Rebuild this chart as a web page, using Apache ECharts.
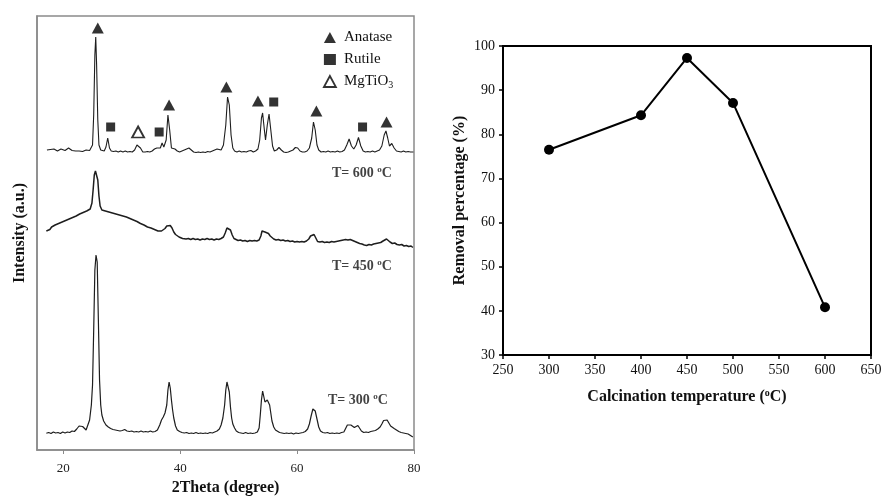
<!DOCTYPE html>
<html>
<head>
<meta charset="utf-8">
<script src="https://cdn.jsdelivr.net/npm/echarts@6/dist/echarts.min.js"></script>
<style>
  html, body { margin: 0; padding: 0; background: #fff; }
  #chart { width: 883px; height: 498px; }
</style>
</head>
<body>
<div id="chart"></div>
<script>
// XRD patterns, [2theta (deg), stacked intensity (a.u.)]
const xrd600 = [[17.2,300],[17.5,299],[17.8,300.5],[18.1,299.5],[18.4,301],[18.7,300],[19.0,299],[19.3,300],[19.6,301],[19.9,300],[20.3,299.5],[20.6,300.5],[20.9,302],[21.2,300],[21.5,299.5],[21.8,300],[22.1,299],[22.4,300],[22.7,299],[23.0,300],[23.3,298.5],[23.6,299],[23.9,300],[24.2,299],[24.5,299.5],[24.8,301],[25.0,305],[25.2,335],[25.4,395],[25.55,413],[25.7,385],[25.9,330],[26.1,305],[26.4,300],[26.7,299],[27.0,299],[27.3,303],[27.6,312],[27.9,302],[28.2,299],[28.6,298.5],[29.0,299],[29.4,298],[29.8,299],[30.2,298],[30.6,299],[31.0,298],[31.4,298.5],[31.8,298],[32.2,300],[32.6,305],[32.9,306.5],[33.2,302],[33.6,298],[34.0,298],[34.4,298.5],[34.8,298],[35.2,299],[35.6,301],[36.0,302],[36.3,304],[36.6,302],[36.9,307],[37.2,303],[37.6,310],[37.9,335],[38.2,320],[38.5,302],[38.8,304],[39.1,301],[39.5,299],[39.9,298],[40.3,299],[40.7,300],[41.1,301],[41.5,302],[41.9,300],[42.3,298],[42.7,297.5],[43.1,298],[43.5,297.5],[43.9,298],[44.3,297.5],[44.7,298.5],[45.1,298],[45.5,299],[45.9,300],[46.3,301],[46.6,299],[47.0,300],[47.4,305],[47.8,325],[48.1,353],[48.4,345],[48.7,315],[49.0,302],[49.3,299],[49.7,298],[50.1,299],[50.5,298],[50.9,298.5],[51.3,298],[51.7,299],[52.1,299.5],[52.5,298],[52.9,299],[53.3,301],[53.6,310],[53.9,332],[54.1,337],[54.4,320],[54.6,310],[54.9,325],[55.2,336],[55.5,320],[55.8,304],[56.1,299],[56.5,300],[56.9,302.5],[57.3,300],[57.7,298],[58.1,297.5],[58.5,298],[58.9,299],[59.3,300],[59.7,302.5],[60.1,302],[60.5,299],[60.9,298],[61.3,298],[61.7,299],[62.1,302],[62.5,312],[62.8,328],[63.1,320],[63.4,305],[63.7,300],[64.1,298],[64.5,298.5],[64.9,298],[65.3,299],[65.7,298],[66.1,298.5],[66.5,298],[66.9,299],[67.3,298],[67.7,298.5],[68.1,300],[68.5,305],[68.9,311],[69.3,304],[69.7,301],[70.1,305],[70.5,312.5],[70.9,304],[71.3,299],[71.7,298],[72.1,298.5],[72.5,298],[72.9,299],[73.3,298],[73.7,299],[74.1,300],[74.5,304],[74.9,315],[75.2,319],[75.5,312],[75.8,304],[76.2,306.5],[76.6,302],[77.0,299],[77.4,298.5],[77.8,298],[78.2,299],[78.6,298],[79.0,298.5],[79.4,298],[79.9,298]];

const xrd450 = [[17.1,219],[17.4,221],[17.7,220.5],[18.0,223],[18.3,222.5],[18.6,225],[18.9,224.5],[19.2,226.5],[19.5,226],[19.8,228],[20.1,227.5],[20.4,229.5],[20.7,229],[21.0,231],[21.3,230.5],[21.6,232.5],[21.9,232],[22.2,234],[22.5,234.5],[22.8,236],[23.1,235.5],[23.4,237.5],[23.7,238],[24.0,239],[24.3,239.5],[24.6,241],[24.9,247],[25.1,260],[25.3,275],[25.5,279],[25.7,277],[25.9,270],[26.1,254],[26.3,244],[26.6,240],[26.9,240.5],[27.2,239],[27.5,239.5],[27.8,238],[28.1,238.5],[28.4,237],[28.7,237.5],[29.0,236],[29.3,237],[29.6,235],[29.9,235.5],[30.2,234],[30.5,234.5],[30.8,233],[31.1,232.5],[31.4,231.5],[31.7,231],[32.0,230],[32.3,229.5],[32.6,228.5],[32.9,228],[33.2,226.5],[33.5,227],[33.8,225],[34.1,224.5],[34.4,223],[34.7,223.5],[35.0,222],[35.3,221.5],[35.6,220.5],[35.9,220],[36.2,219],[36.5,218.5],[36.8,219],[37.1,220],[37.4,221.5],[37.7,224],[38.0,225.5],[38.3,224.5],[38.6,222],[38.9,218],[39.2,215.5],[39.5,214.5],[39.8,213],[40.1,212.5],[40.4,211.5],[40.7,212],[41.0,211],[41.4,211.5],[41.8,210.5],[42.2,211.5],[42.6,210.5],[43.0,211],[43.4,210],[43.8,211],[44.2,210.5],[44.6,211.5],[45.0,210.5],[45.4,211],[45.8,210],[46.2,211],[46.6,210.5],[47.0,211.5],[47.4,213],[47.7,217],[48.0,222],[48.3,223.5],[48.6,220],[48.9,215],[49.2,211.5],[49.5,210.5],[49.9,209.5],[50.3,210],[50.7,209],[51.1,209.5],[51.5,208.5],[51.9,209.5],[52.3,209],[52.7,209.5],[53.1,209],[53.5,210],[53.8,214],[54.0,219],[54.2,220],[54.5,218],[54.8,216],[55.1,216.5],[55.4,214],[55.7,212],[56.0,211],[56.4,210],[56.8,210.5],[57.2,209.5],[57.6,210],[58.0,209],[58.4,209.5],[58.8,208.5],[59.2,209],[59.6,208],[60.0,208.5],[60.4,208],[60.8,208.5],[61.2,208],[61.6,209],[62.0,211],[62.3,214],[62.6,216],[62.9,215.5],[63.2,212],[63.5,208.5],[63.9,208],[64.3,208.5],[64.7,207.5],[65.1,208],[65.5,207.5],[65.9,208.5],[66.3,208],[66.7,208.5],[67.1,209],[67.5,209.5],[67.9,210],[68.3,210.5],[68.7,210],[69.1,210.5],[69.5,209.5],[69.9,208.5],[70.3,207.5],[70.7,206.5],[71.1,206],[71.5,205],[71.9,204.5],[72.3,205.5],[72.7,205],[73.1,206],[73.5,206.5],[73.9,207],[74.3,207.5],[74.7,209],[75.0,210],[75.3,211],[75.6,209.5],[75.9,208],[76.3,206.5],[76.7,207],[77.1,205.5],[77.5,205],[77.9,205.5],[78.3,204],[78.7,204.5],[79.1,203.5],[79.5,204],[79.8,202.5]];

const xrd300 = [[17.1,16.7],[17.5,17.5],[17.9,16.5],[18.3,18],[18.7,17],[19.1,17.5],[19.5,16.5],[19.9,18],[20.3,17],[20.7,18],[21.1,17.5],[21.5,19],[21.9,18.5],[22.3,21],[22.7,24],[23.0,25],[23.3,23.5],[23.6,22],[23.9,20],[24.2,22],[24.5,30],[24.8,45],[25.0,65],[25.2,120],[25.4,180],[25.6,195],[25.8,188],[26.0,130],[26.2,70],[26.4,45],[26.6,35],[26.9,29],[27.3,25],[27.7,23],[28.1,21.5],[28.5,20.5],[28.9,20],[29.3,19.5],[29.7,19],[30.1,19.5],[30.5,20.5],[30.9,19],[31.3,18.5],[31.7,19],[32.1,18],[32.5,18.5],[32.9,18],[33.3,19],[33.7,18],[34.1,18.5],[34.5,18],[34.9,19],[35.3,18],[35.7,18.5],[36.1,20],[36.5,25],[36.8,30],[37.1,33],[37.4,37],[37.7,45],[37.9,60],[38.1,68],[38.3,62],[38.5,50],[38.7,40],[38.9,32],[39.2,24],[39.5,20],[39.9,18.5],[40.3,17.5],[40.7,17],[41.1,17.5],[41.5,16.5],[41.9,17],[42.3,16.5],[42.7,17.5],[43.1,16.5],[43.5,17],[43.9,16.5],[44.3,17],[44.7,16.5],[45.1,17.5],[45.5,17],[45.9,18],[46.3,19],[46.7,21],[47.0,25],[47.3,32],[47.6,45],[47.8,60],[48.0,68],[48.2,67],[48.4,58],[48.6,43],[48.8,32],[49.0,26],[49.3,22],[49.6,19],[50.0,17.5],[50.4,17],[50.8,16.5],[51.2,17.5],[51.6,16.5],[52.0,17],[52.4,16.5],[52.8,17],[53.2,18],[53.5,22],[53.7,35],[53.9,50],[54.1,59],[54.3,57],[54.5,48],[54.7,46],[54.9,50],[55.1,49],[55.3,45],[55.5,37],[55.7,29],[56.0,23],[56.3,20],[56.6,18.5],[57.0,17.5],[57.4,17],[57.8,16.5],[58.2,17],[58.6,16.5],[59.0,17],[59.4,16],[59.8,17],[60.2,16.5],[60.6,17],[61.0,17.5],[61.4,18.5],[61.8,21],[62.1,26],[62.4,34],[62.7,41],[62.9,41.5],[63.1,39],[63.4,31],[63.7,23],[64.0,19],[64.4,17.5],[64.8,17],[65.2,17.5],[65.6,16.5],[66.0,17],[66.4,16.5],[66.8,17],[67.2,16.5],[67.6,17.5],[68.0,18],[68.3,20],[68.6,25],[68.9,26.5],[69.2,25],[69.5,23],[69.8,22.5],[70.1,23.5],[70.4,24.5],[70.7,23],[71.0,19],[71.4,17.5],[71.8,18],[72.2,17.5],[72.6,18.5],[73.0,19],[73.4,19.5],[73.8,21],[74.2,23],[74.5,26],[74.8,29.5],[75.1,30.5],[75.4,30],[75.7,27],[76.0,24],[76.3,23],[76.6,21.5],[77.0,20],[77.4,18.5],[77.8,17.5],[78.2,17],[78.6,16.5],[79.0,16],[79.4,14.5],[79.8,13]];

// Phase markers placed above the 600 °C reflections
const anatasePeaks = [[25.9,422],[38.1,345],[47.9,363],[53.3,349],[63.3,339],[75.3,328]];
const rutilePeaks = [[28.1,323],[36.4,318],[56.0,348],[71.2,323]];
const mgtio3Peaks = [[32.8,318]];

// Pattern captions
const tempCaptions = [
  { value: [71.1, 277], temp: '600' },
  { value: [71.1, 184], temp: '450' },
  { value: [70.4, 50], temp: '300' }
];
const thetaTicks = [20, 40, 60, 80];

// Removal efficiency vs calcination temperature
const calcTemp = [300, 400, 450, 500, 600];
const removal = [76.5, 84.3, 97.3, 87.1, 40.8];

const SERIF = 'Liberation Serif';
const chart = echarts.init(document.getElementById('chart'), null, { renderer: 'canvas' });

const trace = (name, data, width) => ({ name, data, type: 'line', xAxisIndex: 0, yAxisIndex: 0,
  showSymbol: false, symbol: 'none', lineStyle: { color: '#1e1e1e', width }, silent: true, z: 2 });

chart.setOption({
  animation: false,
  backgroundColor: '#fff',
  grid: [
    { left: 37, top: 16, width: 377, height: 434, show: true, borderColor: '#8a8a8a', borderWidth: 1.5,
      outerBoundsMode: 'none' },
    { left: 503, top: 46, width: 368, height: 309, show: true, borderColor: '#000', borderWidth: 2,
      outerBoundsMode: 'none' }
  ],
  legend: {
    orient: 'vertical', left: 318, top: 25, itemWidth: 12, itemHeight: 11, itemGap: 7,
    selectedMode: false,
    data: [
      { name: 'Anatase', icon: 'triangle' },
      { name: 'Rutile', icon: 'rect' },
      { name: 'MgTiO3', icon: 'triangle', itemStyle: { color: '#fff', borderColor: '#000', borderWidth: 1.8 } }
    ],
    formatter: n => n === 'MgTiO3' ? 'MgTiO{sub|3}' : n,
    textStyle: { fontFamily: SERIF, fontSize: 15, color: '#111', padding: [0, 0, 0, 3],
      rich: { sub: { fontFamily: SERIF, fontSize: 10, color: '#111', padding: [7, 0, 0, 0] } } }
  },
  xAxis: [
    { type: 'value', gridIndex: 0, min: 15.5, max: 80,
      name: '2Theta (degree)', nameLocation: 'middle', nameGap: 30,
      nameTextStyle: { fontFamily: SERIF, fontSize: 16, fontWeight: 'bold', color: '#111' },
      axisLine: { lineStyle: { color: '#8a8a8a', width: 1.5 } },
      axisTick: { show: true, length: 4, customValues: thetaTicks, lineStyle: { color: '#8a8a8a' } },
      axisLabel: { customValues: thetaTicks, margin: 12, fontFamily: SERIF, fontSize: 13, color: '#222' },
      splitLine: { show: false } },
    { type: 'value', gridIndex: 1, min: 250, max: 650, interval: 50,
      name: 'Calcination temperature ({sup|o}C)', nameLocation: 'middle', nameGap: 33,
      nameTextStyle: { fontFamily: SERIF, fontSize: 16, fontWeight: 'bold', color: '#111',
        rich: { sup: { fontFamily: SERIF, fontSize: 10, fontWeight: 'bold', color: '#111', padding: [0, 0, 8, 0] } } },
      axisLine: { lineStyle: { color: '#000', width: 2 } },
      axisTick: { length: 4, lineStyle: { color: '#000', width: 1.5 } },
      axisLabel: { margin: 8, fontFamily: SERIF, fontSize: 14, color: '#111' },
      splitLine: { show: false } }
  ],
  yAxis: [
    { type: 'value', gridIndex: 0, min: 0, max: 434,
      name: 'Intensity (a.u.)', nameLocation: 'middle', nameGap: 9,
      nameTextStyle: { fontFamily: SERIF, fontSize: 16, fontWeight: 'bold', color: '#111' },
      axisLine: { lineStyle: { color: '#8a8a8a', width: 1.5 } },
      axisTick: { show: false }, axisLabel: { show: false }, splitLine: { show: false } },
    { type: 'value', gridIndex: 1, min: 30, max: 100, interval: 10,
      name: 'Removal percentage (%)', nameLocation: 'middle', nameGap: 35,
      nameTextStyle: { fontFamily: SERIF, fontSize: 16, fontWeight: 'bold', color: '#111' },
      axisLine: { lineStyle: { color: '#000', width: 2 } },
      axisTick: { length: 4, lineStyle: { color: '#000', width: 1.5 } },
      axisLabel: { margin: 8, fontFamily: SERIF, fontSize: 14, color: '#111' },
      splitLine: { show: false } }
  ],
  series: [
    trace('T600', xrd600, 1.1),
    trace('T450', xrd450, 1.5),
    trace('T300', xrd300, 1.2),
    { name: 'Anatase', type: 'scatter', xAxisIndex: 0, yAxisIndex: 0, symbol: 'triangle', symbolSize: [12, 11],
      itemStyle: { color: '#000' }, data: anatasePeaks, z: 4 },
    { name: 'Rutile', type: 'scatter', xAxisIndex: 0, yAxisIndex: 0, symbol: 'rect', symbolSize: 9,
      itemStyle: { color: '#000' }, data: rutilePeaks, z: 4 },
    { name: 'MgTiO3', type: 'scatter', xAxisIndex: 0, yAxisIndex: 0, symbol: 'triangle', symbolSize: [12, 11],
      itemStyle: { color: '#fff', borderColor: '#000', borderWidth: 1.8 }, data: mgtio3Peaks, z: 4 },
    { name: 'captions', type: 'scatter', xAxisIndex: 0, yAxisIndex: 0, symbolSize: 0, silent: true,
      data: tempCaptions, z: 5,
      label: { show: true, position: 'inside',
        formatter: p => 'T= ' + p.data.temp + ' {sup|o}C',
        fontFamily: SERIF, fontSize: 14, fontWeight: 'bold', color: '#111',
        rich: { sup: { fontFamily: SERIF, fontSize: 9, fontWeight: 'bold', color: '#111', padding: [0, 0, 7, 0] } } } },
    { name: 'Removal', type: 'line', xAxisIndex: 1, yAxisIndex: 1,
      data: calcTemp.map((t, i) => [t, removal[i]]),
      symbol: 'circle', symbolSize: 10, showSymbol: true,
      itemStyle: { color: '#000' }, lineStyle: { color: '#000', width: 2 }, z: 3 }
  ]
});
</script>
</body>
</html>
